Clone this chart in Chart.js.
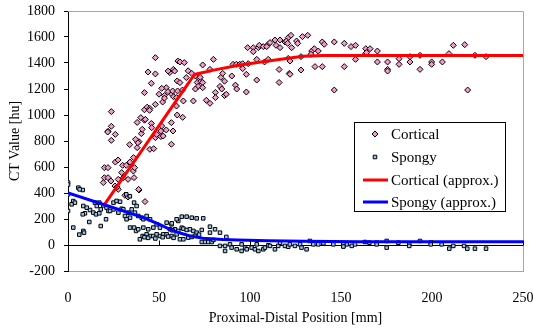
<!DOCTYPE html>
<html><head><meta charset="utf-8">
<script src="https://cdn.jsdelivr.net/npm/chart.js@4/dist/chart.umd.min.js"></script>
<style>html,body{margin:0;padding:0;background:#fff}#wrap{width:533px;height:329px}</style>
</head><body><div id="wrap"><canvas id="c" width="533" height="329"></canvas></div>
<script>
const xTickValues=[0,50,100,150,200,250];
const yTickValues=[-200,0,200,400,600,800,1000,1200,1400,1600,1800];
const seriesNames=['Cortical','Spongy','Cortical (approx.)','Spongy (approx.)'];
const xTitle='Proximal-Distal Position [mm]';
const yTitle='CT Value [hu]';

const cortical=[
[19.4,480],[20,518],[22,518],[20,595],[22,595],[23.6,492],[25.8,454],[27.6,505],[29.5,557],[30.4,518],[33,505],[35.9,569],[36.3,518],[27.6,428],[31.3,382],[33,369],[39,423],[42.3,334],[26,638],[27.5,654],[30,613],[32,613],[34,638],[36,672],[36.6,595],[38.8,428],[27,446],
[23.8,1026],[23.8,913],[22,875],[26,851],[21.8,869],[23.8,805],[39,795],[38,749],[33.9,772],[45,736],[40.3,857],[42,960],[38,943],[45.8,935],[51,877],[51,834],[54,885],[48,826],[56.8,941],[56.8,775],[48,1082],[42,1040],[43.5,1060],[45,1050],[42,1172],[52,1100],[53,1150],[54,1210],[55,1180],[50,1160],[53,1130],[48,1441],[44,1331],[48,1316],[45.8,1244],[55.9,1326],[57.9,1351],[60,1262],[63,982],[60,1000],
[55,1338],[58.6,1338],[60.4,1415],[51.5,1205],[57,1160],[58,1140],[59.6,1069],[44.8,1036],[42.5,967],[40,980],[40.8,890],[46,903],[51.5,915],[52.3,838],[48.7,851],[57.7,877],[47.1,741],[38.4,787],[37.1,813],
[61.5,1408],[63.9,1403],[74,1385],[79.9,1428],[66,1340],[68,1320],[70,1300],[72,1280],[71,1250],[73,1260],[78,1351],[65,1288],[61.5,1249],[57.5,1185],[60.2,1185],[62.9,1192],[59.7,1134],[63.4,1108],[68.9,1108],[72.6,1290],[74,1250],[71.5,1220],[74,1210],[70,1200],[76,1113],[78,1090],[81,1174],[81,1134],[84,1290],[85,1320],[86,1260],[83.5,1220],[84.5,1200],[86,1150],[87,1160],[90,1300],[92,1230],[92.7,1200],[90.7,1390],[92.5,1390],[94.4,1390],[96,1395],[99,1395],[96,1357],[98,1313],[98,1177],[103.7,1428],[103.7,1269],[108,1408],[110,1428],[116,1350],[116,1250],[121,1435],[121.6,1320],
[98.7,1518],[101.8,1518],[101.8,1487],[104.6,1518],[105.1,1536],[107.3,1526],[110,1544],[109.2,1526],[111,1557],[113.7,1577],[114.3,1536],[116.5,1577],[116.5,1518],[119.2,1562],[121,1595],
[122.5,1613],[120,1569],[120.7,1551],[122.9,1518],[125.6,1569],[126.2,1551],[128.8,1603],[131.7,1613],[122,1415],[122,1313],[128,1449],[128,1346],[133.9,1492],[133.5,1467],[135.3,1510],[137.5,1492],[135.7,1372],[139.7,1562],[140.8,1544],[139.7,1372],[146.3,1562],[151.8,1551],[146.3,1192],[151.8,1372],[155.5,1526],[158,1536],[158,1428],[163.6,1510],[166,1510],[163.6,1474],[170,1492],[170,1408],[164,1480],[175.6,1408],[175.6,1351],[175.6,1338],[181.9,1433],[181.9,1390],[187.9,1449],[187.9,1408],[193.4,1459],[193.4,1351],[199.8,1408],[199.8,1390],[205.7,1408],[209.3,1472],[211.7,1536],[218,1541],[219.6,1192],[223.6,1459],[229.7,1449]
];

const spongy=[
[0,480],[0,465],[0,390],[0,262],[2.9,338],[2,313],[3.8,326],[5.7,441],[8.1,423],[6.4,428],[8.4,300],[10.3,287],[12.1,269],[9.3,244],[8.1,236],[2.9,134],[6.2,80],[8.4,108],[8.8,95],[11.7,177],[14.8,326],[15.8,300],[17.2,326],[18,274],[19.4,305],[21.2,287],[22.2,262],[13.9,249],[15.4,236],[17.2,244],[20.9,198],[18,146],[25,326],[26.7,339],[28.6,333],[29.5,279],[30.4,274],[27.7,249],[25,274],[23.1,262],
[31.3,223],[33.2,249],[34.1,210],[32.2,198],[35,274],[36.3,326],[37.7,300],[32,390],[34,375],[36.8,249],[38.6,223],[40.5,210],[41.4,198],[43.2,223],[45.1,198],[34.1,134],[36.3,134],[37.4,108],[38.6,121],[41.4,134],[44.1,121],[46.9,134],[48.7,159],[50.5,134],[54.2,172],[56.9,159],[58.8,121],[60.6,108],[39.5,44],[41,69],[43.2,82],[45.1,69],[46.9,69],[48.7,82],[50.5,69],[52.4,82],[54.2,82],[56.9,69],[59.7,82],[60.6,185],[42,60],[44,55],[48,50],[52,60],[55,65],[58,55],
[57,167],[59.7,198],[62.5,218],[65.2,218],[68,210],[70.7,205],[74.3,205],
[56,121],[57.4,113],[62.5,133],[63.4,126],[65.2,116],[67,121],[68.9,108],[70.7,95],[73.5,116],[72,80],[61.5,44],[63.4,44],[66.1,57],[68,62],[69.8,70],[78,141],[78,95],[80.8,121],[83.5,95],[87,62],
[73.5,23],[75.3,23],[77.1,23],[79,23],[79.9,39],
[83.5,-7],[86.3,-7],[86.3,-46],[89,5],[89.9,-20],[92.7,-33],[95.4,5],[95.4,-46],[97.3,-20],[98.2,-33],[100.9,-20],[102.7,-33],[103.7,5],[104.6,-46],[107.3,-33],[108.2,-20],[110.1,-2],[111,-7],[113.7,-33],[115.5,-7],[116.5,18],[119.2,-7],[121,-13],[121.9,5],[124.7,-7],[127.5,5],[128.3,-20],[131.1,-33],[132.9,31],[134.8,5],[137.5,5],[140.3,13],[145.8,5],[151.3,-7],[153.1,5],
[151.3,13],[151.3,-12],[155.9,-7],[157.7,5],[163.2,23],[165.6,18],[169.6,18],[169.6,5],[175.1,31],[175.1,-20],[181.5,18],[187.5,13],[187.5,-7],[193.4,31],[199.3,18],[199.3,5],[205.3,5],[209.5,-28],[211.7,-7],[217.6,-7],[219.4,-28],[223.6,-28],[229.7,-28]
];

const corticalApproxX=[20,69.5,80,93,105,117,129,140,250];
const corticalApproxY=[310,1312,1345,1380,1405,1428,1452,1458,1458];
const spongyApproxX=[0,20,41,50,56,62,67,74,85,93,110,130,160,250];
const spongyApproxY=[400,310,213,160,120,90,70,52,42,38,32,28,25,25];

const toPts=a=>a.map(p=>({x:p[0],y:p[1]}));
const zip=(xs,ys)=>xs.map((x,i)=>({x:x,y:ys[i]}));

const FONT="'Liberation Serif','Times New Roman',serif";
const styles=[
 {pointStyle:'rectRot',radius:3,borderWidth:1,rotation:0,backgroundColor:'#f49ac8',borderColor:'#000'},
 {pointStyle:'rect',radius:2.5,borderWidth:1,rotation:0,backgroundColor:'#9cc8f0',borderColor:'#000'}
];

const frame={
 id:'frame',
 beforeDatasetsDraw(chart){
  const {ctx,chartArea:a}=chart;
  ctx.save();ctx.strokeStyle='#a6a6a6';ctx.lineWidth=1;
  ctx.beginPath();
  ctx.moveTo(a.left,a.top+0.5);ctx.lineTo(a.right+0.5,a.top+0.5);ctx.lineTo(a.right+0.5,a.bottom);
  ctx.stroke();ctx.restore();
 },
 afterDatasetsDraw(chart){
  const {ctx}=chart;const xs=chart.scales.x, ys=chart.scales.y;
  const y0=Math.round(ys.getPixelForValue(0))+0.5;
  ctx.save();ctx.strokeStyle='#000';ctx.lineWidth=1;ctx.beginPath();
  xs.ticks.forEach(t=>{const px=Math.round(xs.getPixelForValue(t.value))+0.5;ctx.moveTo(px,y0);ctx.lineTo(px,y0-5);});
  ctx.stroke();ctx.restore();
 },
 afterDraw(chart){
  const ctx=chart.ctx;
  const bx=354.5,by=122.5,bw=151,bh=89;
  ctx.save();
  ctx.fillStyle='#fff';ctx.fillRect(bx,by,bw,bh);
  ctx.strokeStyle='#000';ctx.lineWidth=1;ctx.strokeRect(bx,by,bw,bh);
  const rows=[134,157,180,202];
  const ds=chart.data.datasets;
  ctx.font='15px '+FONT;ctx.textBaseline='middle';ctx.textAlign='left';
  rows.forEach((ry,i)=>{
   const d=ds[i];
   if(i<2){
    ctx.fillStyle=styles[i].backgroundColor;ctx.strokeStyle='#000';ctx.lineWidth=1;
    Chart.helpers.drawPoint(ctx,styles[i],375,ry);
   } else {
    ctx.strokeStyle=d.borderColor;ctx.lineWidth=3;ctx.beginPath();ctx.moveTo(363,ry);ctx.lineTo(388,ry);ctx.stroke();
   }
   ctx.fillStyle='#000';ctx.fillText(d.label,391,ry+1);
  });
  ctx.restore();
 }
};

new Chart(document.getElementById('c'),{
 type:'scatter',
 data:{datasets:[
  {label:seriesNames[0],data:toPts(cortical),pointStyle:'rectRot',pointRadius:3,pointBorderWidth:1,pointBackgroundColor:styles[0].backgroundColor,pointBorderColor:'#000',order:4},
  {label:seriesNames[1],data:toPts(spongy),pointStyle:'rect',pointRadius:2.5,pointBorderWidth:1,pointBackgroundColor:styles[1].backgroundColor,pointBorderColor:'#000',order:3},
  {label:seriesNames[2],data:zip(corticalApproxX,corticalApproxY),showLine:true,borderColor:'#ff0000',borderWidth:3,pointRadius:0,order:2},
  {label:seriesNames[3],data:zip(spongyApproxX,spongyApproxY),showLine:true,borderColor:'#0000ff',borderWidth:3,pointRadius:0,order:1}
 ]},
 options:{
  responsive:false,animation:false,devicePixelRatio:1,
  layout:{padding:{left:0,right:10,top:11,bottom:0}},
  plugins:{legend:{display:false},tooltip:{enabled:false}},
  scales:{
   x:{type:'linear',min:0,max:250,
    afterBuildTicks(s){s.ticks=xTickValues.map(v=>({value:v}));},
    afterFit(s){s.height=58;s.paddingLeft=0;s.paddingRight=0;},
    ticks:{padding:19,color:'#000',font:{family:FONT,size:14},callback:v=>String(v)},
    grid:{display:false,drawTicks:false},
    border:{display:true,color:'#a6a6a6',width:1},
    title:{display:true,text:xTitle,color:'#000',font:{family:FONT,size:14},padding:{top:0,bottom:2}}
   },
   y:{type:'linear',min:-200,max:1800,
    afterBuildTicks(s){s.ticks=yTickValues.map(v=>({value:v}));},
    afterFit(s){s.width=68;s.paddingTop=0;s.paddingBottom=0;},
    ticks:{padding:9,color:'#000',font:{family:FONT,size:14},callback:v=>String(v)},
    grid:{color:c=>(c.tick&&c.tick.value===0)?'#000':'rgba(0,0,0,0)',tickColor:'#000',tickLength:4,lineWidth:1},
    border:{display:true,color:'#000',width:1},
    title:{display:true,text:yTitle,color:'#000',font:{family:FONT,size:14},padding:{top:7,bottom:0}}
   }
  }
 },
 plugins:[frame]
});
</script></body></html>
